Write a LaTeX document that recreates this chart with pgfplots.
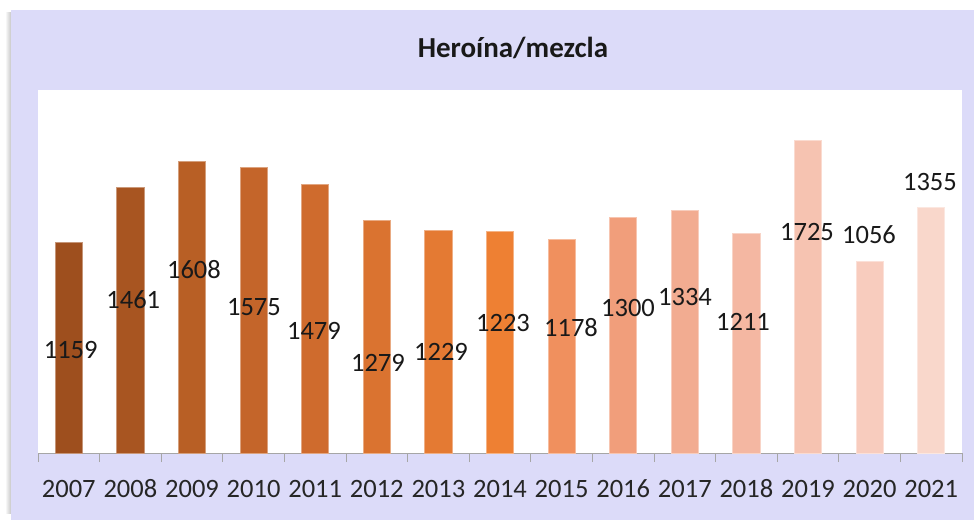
\documentclass[border=0pt]{standalone}
\usepackage{pgfplots}
\pgfplotsset{compat=1.18}
\usepackage{pgfplotstable}
\usepackage{fontspec}
\setmainfont{Carlito}
\definecolor{panel}{HTML}{DCDBF9}
\definecolor{axisgray}{HTML}{A6A6A6}
\definecolor{ca}{HTML}{9E4F1E}
\definecolor{cb}{HTML}{A85521}
\definecolor{cc}{HTML}{B85F25}
\definecolor{cd}{HTML}{C4652A}
\definecolor{ce}{HTML}{CF6B2D}
\definecolor{cf}{HTML}{DA7330}
\definecolor{cg}{HTML}{E47A33}
\definecolor{ch}{HTML}{EE8033}
\definecolor{ci}{HTML}{F0905E}
\definecolor{cj}{HTML}{F19E7B}
\definecolor{ck}{HTML}{F2AC91}
\definecolor{cl}{HTML}{F4B7A2}
\definecolor{cm}{HTML}{F6C3B1}
\definecolor{cn}{HTML}{F8CCBE}
\definecolor{co}{HTML}{F9D7CB}
\pgfplotstableread{
x y label
0.031 568 1159
1.047 843 1461
2.032 1009 1608
3.006 805 1575
3.980 673 1479
5.019 496 1279
6.042 557 1229
7.049 717 1223
8.153 689 1178
9.078 799 1300
10.003 860 1334
10.945 722 1211
11.984 1218 1725
12.990 1202 1056
13.980 1494 1355
}\labeltable
\begin{document}
\begin{tikzpicture}
\shade[left color=white, right color=black!22] (-33pt,-60pt) rectangle (-27pt,440pt);
\fill[panel] (-27pt,-67pt) rectangle (936pt,443pt);
\begin{axis}[
  at={(0pt,0pt)}, anchor=south west,
  scale only axis, width=924pt, height=363pt,
  xmin=-0.5, xmax=14.5, ymin=0, ymax=2000,
  axis background/.style={fill=white},
  axis x line=bottom, axis y line=none,
  axis line style={axisgray, line width=1pt, -},
  xtick={0,...,14},
  xticklabels={2007,2008,2009,2010,2011,2012,2013,2014,2015,2016,2017,2018,2019,2020,2021},
  major tick length=0pt,
  minor xtick={-0.5,0.5,...,14.5},
  minor tick length=9pt,
  tick align=outside,
  minor tick style={axisgray, line width=1pt},
  xticklabel style={font=\fontsize{26.5}{30}\selectfont, text=black!85, anchor=base, yshift=-44pt},
  title={\textbf{Heroína/mezcla}},
  title style={at={(axis description cs:0.514,1.099)}, anchor=center, font=\fontsize{29}{34}\selectfont, text=black!90},
  clip=false,
]
\addplot[ybar, bar width=0.44, bar shift=0pt, fill=ca, draw=ca!60!white, line width=0.8pt] coordinates {(0,1159)};
\addplot[ybar, bar width=0.44, bar shift=0pt, fill=cb, draw=cb!60!white, line width=0.8pt] coordinates {(1,1461)};
\addplot[ybar, bar width=0.44, bar shift=0pt, fill=cc, draw=cc!60!white, line width=0.8pt] coordinates {(2,1608)};
\addplot[ybar, bar width=0.44, bar shift=0pt, fill=cd, draw=cd!60!white, line width=0.8pt] coordinates {(3,1575)};
\addplot[ybar, bar width=0.44, bar shift=0pt, fill=ce, draw=ce!60!white, line width=0.8pt] coordinates {(4,1479)};
\addplot[ybar, bar width=0.44, bar shift=0pt, fill=cf, draw=cf!60!white, line width=0.8pt] coordinates {(5,1279)};
\addplot[ybar, bar width=0.44, bar shift=0pt, fill=cg, draw=cg!60!white, line width=0.8pt] coordinates {(6,1229)};
\addplot[ybar, bar width=0.44, bar shift=0pt, fill=ch, draw=ch!60!white, line width=0.8pt] coordinates {(7,1223)};
\addplot[ybar, bar width=0.44, bar shift=0pt, fill=ci, draw=ci!60!white, line width=0.8pt] coordinates {(8,1178)};
\addplot[ybar, bar width=0.44, bar shift=0pt, fill=cj, draw=cj!60!white, line width=0.8pt] coordinates {(9,1300)};
\addplot[ybar, bar width=0.44, bar shift=0pt, fill=ck, draw=ck!60!white, line width=0.8pt] coordinates {(10,1334)};
\addplot[ybar, bar width=0.44, bar shift=0pt, fill=cl, draw=cl!60!white, line width=0.8pt] coordinates {(11,1211)};
\addplot[ybar, bar width=0.44, bar shift=0pt, fill=cm, draw=cm!60!white, line width=0.8pt] coordinates {(12,1725)};
\addplot[ybar, bar width=0.44, bar shift=0pt, fill=cn, draw=cn!60!white, line width=0.8pt] coordinates {(13,1056)};
\addplot[ybar, bar width=0.44, bar shift=0pt, fill=co, draw=co!60!white, line width=0.8pt] coordinates {(14,1355)};
\addplot[draw=none, mark=none, nodes near coords, point meta=explicit symbolic,
  nodes near coords style={anchor=center, font=\fontsize{26.5}{30}\selectfont, text=black!90, inner sep=0pt}]
  table[x=x, y=y, meta=label] {\labeltable};
\end{axis}
\pgfresetboundingbox
\path (-38pt,-67pt) rectangle (936pt,453pt);
\end{tikzpicture}
\end{document}
